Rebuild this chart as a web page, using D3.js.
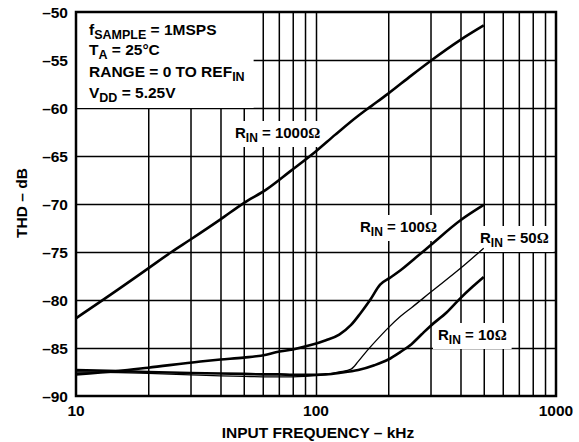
<!DOCTYPE html>
<html><head><meta charset="utf-8">
<script src="https://cdn.jsdelivr.net/npm/d3@7"></script>
<style>
html,body{margin:0;padding:0;background:#fff;}
svg{display:block;font-family:"Liberation Sans",Arial,Helvetica,sans-serif;font-weight:bold;}
</style></head>
<body>
<svg id="chart" width="579" height="442"></svg>
<script>
// ---- data ----
const xTickLabels = [10, 100, 1000];
const yTickLabels = [-90, -85, -80, -75, -70, -65, -60, -55, -50];
const gridFreqs = [20,30,40,50,60,70,80,90,100,200,300,400,500,600,700,800,900];

const f1000 = [10,15,20,25,30,40,50,62,78,100,120,150,170,200,250,300,400,500];
const thd1000 = [-81.9,-78.9,-76.7,-75.0,-73.7,-71.6,-69.9,-68.5,-66.6,-64.5,-62.8,-60.8,-59.8,-58.5,-56.6,-55.1,-52.9,-51.4];

const f100 = [10,15,20,33,40,50,62,68,80,95,110,125,140,153,168,185,203,225,260,300,400,500];
const thd100 = [-87.75,-87.4,-87.05,-86.4,-86.2,-86.0,-85.7,-85.45,-85.15,-84.7,-84.2,-83.6,-82.6,-81.4,-80.0,-78.4,-77.7,-76.9,-75.6,-74.3,-71.7,-70.1];

const f50 = [10,15,20,30,40,50,60,70,80,90,100,110,125,140,150,163,180,200,225,250,300,400,500];
const thd50 = [-87.5,-87.55,-87.65,-87.8,-87.9,-87.95,-88.0,-88.0,-88.0,-87.95,-87.85,-87.75,-87.5,-87.2,-86.4,-85.3,-84.1,-82.9,-81.7,-80.8,-79.2,-76.7,-74.6];

const f10 = [10,15,20,30,40,50,60,70,80,90,100,110,125,150,175,200,225,250,275,300,350,400,450,500];
const thd10 = [-87.3,-87.4,-87.5,-87.6,-87.65,-87.7,-87.75,-87.75,-87.8,-87.8,-87.8,-87.75,-87.6,-87.3,-86.8,-86.2,-85.4,-84.6,-83.6,-82.7,-81.3,-79.8,-78.6,-77.6];

const seriesNames = ["1000", "100", "50", "10"];
const legendLines = [
  ["f", "SAMPLE", " = 1MSPS"],
  ["T", "A", " = 25°C"],
  ["RANGE = 0 TO REF", "IN", ""],
  ["V", "DD", " = 5.25V"]
];

// ---- layout ----
const L = 76, T = 12, W = 480, H = 384;
const svg = d3.select("#chart");
const x = d3.scaleLog().domain([10, 1000]).range([L, L + W]);
const y = d3.scaleLinear().domain([-90, -50]).range([T + H, T]);

// grid
svg.append("g").attr("transform", `translate(0,${T + H})`)
  .call(d3.axisBottom(x).tickValues(gridFreqs).tickSize(-H).tickFormat(""))
  .call(g => g.select(".domain").remove())
  .call(g => g.selectAll("line").attr("stroke", "#000").attr("stroke-width", 1.5));
svg.append("g").attr("transform", `translate(${L},0)`)
  .call(d3.axisLeft(y).tickValues(yTickLabels.slice(1, -1)).tickSize(-W).tickFormat(""))
  .call(g => g.select(".domain").remove())
  .call(g => g.selectAll("line").attr("stroke", "#000").attr("stroke-width", 1.5));

// legend box (covers grid)
const legendG = svg.append("g");
const legendBg = legendG.append("rect").attr("fill", "#fff");
const legendBaselines = [35, 55, 77, 98];
const legendTexts = legendG.selectAll("text").data(legendLines).join("text")
  .attr("x", 89).attr("y", (d, i) => legendBaselines[i])
  .attr("font-size", 15.5).attr("fill", "#000");
legendTexts.each(function(d) {
  const t = d3.select(this);
  t.append("tspan").text(d[0]);
  t.append("tspan").attr("font-size", 12.5).attr("dy", 4).text(d[1]);
  if (d[2]) t.append("tspan").attr("dy", -4).text(d[2]);
});
let maxR = 0;
legendTexts.each(function() { const b = this.getBBox(); maxR = Math.max(maxR, b.x + b.width); });
legendBg.attr("x", L).attr("y", T).attr("width", maxR + 9 - L).attr("height", y(-60) - T);

// curve labels
const labelPos = [
  {name: "1000", x: 235, y: 138},
  {name: "100", x: 360, y: 232},
  {name: "50", x: 480, y: 243},
  {name: "10", x: 438, y: 340}
];
const labelBgG = svg.append("g");

// curves
const line = d3.line().x(d => x(d[0])).y(d => y(d[1])).curve(d3.curveMonotoneX);
const curves = [
  {f: f1000, v: thd1000, w: 2.6},
  {f: f100, v: thd100, w: 2.6},
  {f: f50, v: thd50, w: 1.3},
  {f: f10, v: thd10, w: 2.6}
];
const curveG = svg.append("g");
curves.forEach(c => {
  curveG.append("path").datum(c.f.map((f, i) => [f, c.v[i]]))
    .attr("d", line).attr("fill", "none").attr("stroke", "#000")
    .attr("stroke-width", c.w).attr("stroke-linejoin", "round");
});

const labelTextG = svg.append("g");
labelPos.forEach(p => {
  const t = labelTextG.append("text").attr("x", p.x).attr("y", p.y)
    .attr("font-size", 15).attr("fill", "#000");
  t.append("tspan").text("R");
  t.append("tspan").attr("font-size", 12).attr("dy", 4).text("IN");
  t.append("tspan").attr("dy", -4).text(" = " + p.name);
  t.append("tspan").attr("font-family", "'Liberation Serif','Times New Roman',serif").text("Ω");
  const b = t.node().getBBox();
  labelBgG.append("rect").attr("x", b.x - 5).attr("y", b.y - 3)
    .attr("width", b.width + 10).attr("height", b.height + 5).attr("fill", "#fff");
});

// frame
svg.append("rect").attr("x", L).attr("y", T).attr("width", W).attr("height", H)
  .attr("fill", "none").attr("stroke", "#000").attr("stroke-width", 2.5);

// axes tick labels
svg.append("g").selectAll("text").data(yTickLabels).join("text")
  .attr("x", 68).attr("y", d => y(d)).attr("dy", "0.36em")
  .attr("text-anchor", "end").attr("font-size", 15.5)
  .text(d => "–" + Math.abs(d));
svg.append("g").selectAll("text").data(xTickLabels).join("text")
  .attr("x", d => x(d)).attr("y", 416)
  .attr("text-anchor", "middle").attr("font-size", 15.5)
  .text(d => d);

// axis titles
svg.append("text").attr("x", x(100) + 2).attr("y", 438).attr("text-anchor", "middle")
  .attr("font-size", 15.5).text("INPUT FREQUENCY – kHz");
svg.append("text").attr("transform", `translate(26.5,${y(-70) - 1})rotate(-90)`)
  .attr("text-anchor", "middle").attr("font-size", 15.5).text("THD – dB");
</script>
</body></html>
